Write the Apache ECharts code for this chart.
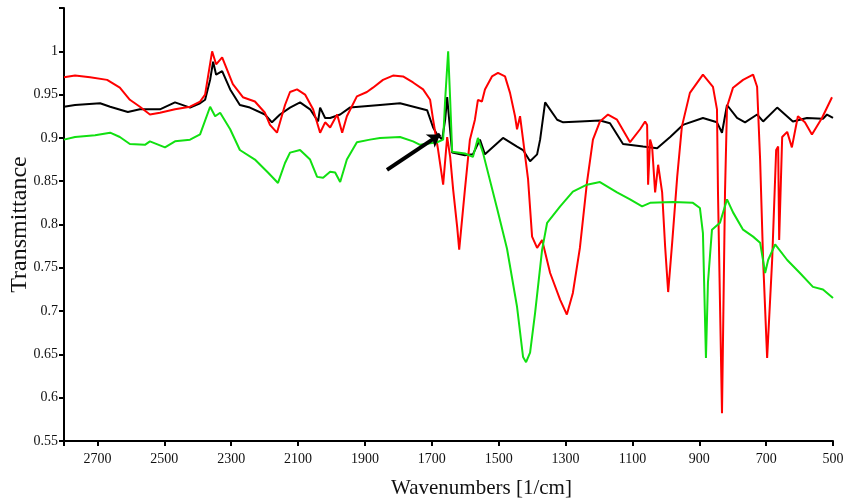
<!DOCTYPE html>
<html>
<head>
<meta charset="utf-8">
<script src="https://cdn.jsdelivr.net/npm/echarts@6/dist/echarts.min.js"></script>
<style>
  html, body { margin: 0; padding: 0; background: #fff; }
  #main { width: 843px; height: 504px; }
</style>
</head>
<body>
<div id="main"></div>
<script>
// wavenumbers (1/cm) and transmittance, one pair of arrays per curve
var blackWn = [2800, 2767, 2692, 2662, 2609, 2573, 2513, 2468, 2423, 2393, 2378, 2363, 2354, 2345, 2327, 2303, 2274, 2244, 2199, 2178, 2154, 2124, 2094, 2064, 2040, 2034, 2019, 2004, 1974, 1945, 1855, 1795, 1714, 1696, 1684, 1669, 1660, 1654, 1648, 1639, 1601, 1577, 1556, 1541, 1487, 1445, 1427, 1406, 1385, 1376, 1361, 1325, 1307, 1257, 1197, 1167, 1128, 1068, 1026, 987, 949, 889, 847, 832, 817, 787, 763, 727, 709, 667, 620, 578, 530, 518, 500];
var blackT  = [0.936, 0.938, 0.940, 0.936, 0.930, 0.933, 0.933, 0.941, 0.935, 0.940, 0.944, 0.967, 0.988, 0.973, 0.977, 0.956, 0.938, 0.935, 0.927, 0.918, 0.927, 0.935, 0.941, 0.933, 0.919, 0.935, 0.923, 0.923, 0.927, 0.935, 0.938, 0.940, 0.932, 0.912, 0.904, 0.898, 0.921, 0.947, 0.921, 0.883, 0.880, 0.881, 0.898, 0.881, 0.900, 0.890, 0.886, 0.873, 0.881, 0.898, 0.941, 0.921, 0.918, 0.919, 0.920, 0.917, 0.893, 0.890, 0.888, 0.901, 0.915, 0.923, 0.918, 0.906, 0.938, 0.923, 0.918, 0.927, 0.919, 0.935, 0.919, 0.923, 0.922, 0.927, 0.923];

var redWn = [2800, 2767, 2722, 2671, 2633, 2603, 2573, 2543, 2513, 2468, 2423, 2393, 2378, 2357, 2345, 2327, 2295, 2265, 2229, 2199, 2184, 2163, 2139, 2124, 2103, 2079, 2055, 2034, 2019, 2004, 1983, 1968, 1954, 1924, 1894, 1876, 1846, 1816, 1786, 1756, 1726, 1705, 1696, 1681, 1666, 1654, 1645, 1636, 1624, 1618, 1601, 1586, 1571, 1562, 1550, 1541, 1520, 1502, 1481, 1466, 1451, 1445, 1436, 1427, 1412, 1400, 1385, 1370, 1346, 1316, 1296, 1278, 1257, 1236, 1218, 1197, 1173, 1146, 1107, 1077, 1062, 1056, 1053, 1047, 1041, 1032, 1023, 1011, 1002, 993, 981, 966, 952, 928, 889, 859, 847, 844, 832, 823, 817, 799, 769, 739, 727, 718, 709, 697, 682, 670, 664, 661, 652, 637, 623, 605, 584, 563, 533, 503];
var redT  = [0.970, 0.972, 0.970, 0.967, 0.958, 0.944, 0.936, 0.927, 0.929, 0.933, 0.936, 0.942, 0.950, 1.000, 0.985, 0.993, 0.962, 0.947, 0.942, 0.929, 0.915, 0.906, 0.938, 0.953, 0.956, 0.950, 0.933, 0.906, 0.918, 0.912, 0.927, 0.906, 0.925, 0.948, 0.953, 0.958, 0.967, 0.972, 0.971, 0.964, 0.956, 0.944, 0.921, 0.886, 0.846, 0.901, 0.878, 0.840, 0.797, 0.771, 0.840, 0.898, 0.921, 0.944, 0.942, 0.956, 0.971, 0.975, 0.971, 0.952, 0.925, 0.910, 0.925, 0.898, 0.852, 0.786, 0.773, 0.782, 0.744, 0.713, 0.696, 0.721, 0.773, 0.848, 0.898, 0.919, 0.927, 0.921, 0.895, 0.910, 0.919, 0.915, 0.846, 0.898, 0.890, 0.837, 0.869, 0.837, 0.774, 0.722, 0.779, 0.855, 0.913, 0.952, 0.973, 0.959, 0.933, 0.837, 0.582, 0.837, 0.936, 0.958, 0.967, 0.973, 0.959, 0.875, 0.759, 0.646, 0.759, 0.886, 0.890, 0.782, 0.901, 0.907, 0.889, 0.925, 0.918, 0.904, 0.923, 0.947];

var greenWn = [2800, 2767, 2707, 2662, 2633, 2603, 2558, 2543, 2498, 2468, 2423, 2393, 2363, 2348, 2333, 2303, 2274, 2229, 2190, 2160, 2139, 2124, 2094, 2064, 2043, 2025, 2004, 1989, 1974, 1954, 1924, 1885, 1855, 1795, 1756, 1735, 1684, 1666, 1660, 1651, 1645, 1639, 1601, 1577, 1562, 1547, 1505, 1475, 1445, 1427, 1418, 1406, 1391, 1370, 1355, 1316, 1278, 1236, 1197, 1146, 1107, 1071, 1047, 978, 919, 898, 889, 880, 874, 862, 838, 817, 799, 769, 739, 718, 703, 694, 673, 637, 599, 560, 530, 500];
var greenT  = [0.898, 0.901, 0.903, 0.906, 0.901, 0.893, 0.892, 0.896, 0.889, 0.896, 0.898, 0.904, 0.936, 0.925, 0.929, 0.910, 0.886, 0.875, 0.860, 0.848, 0.871, 0.883, 0.886, 0.875, 0.855, 0.854, 0.861, 0.860, 0.849, 0.875, 0.895, 0.898, 0.900, 0.901, 0.896, 0.892, 0.895, 0.898, 0.944, 1.000, 0.944, 0.884, 0.882, 0.878, 0.900, 0.883, 0.819, 0.772, 0.705, 0.647, 0.641, 0.652, 0.698, 0.771, 0.802, 0.821, 0.838, 0.846, 0.849, 0.837, 0.829, 0.821, 0.825, 0.826, 0.825, 0.819, 0.790, 0.646, 0.733, 0.794, 0.802, 0.829, 0.814, 0.794, 0.786, 0.779, 0.744, 0.759, 0.777, 0.759, 0.744, 0.728, 0.725, 0.715];

// arrow pointing at the 1675 band
var arrowFrom = [1834, 0.863];
var arrowTo = [1675, 0.904];

function pairs(xs, ys) {
  var out = [];
  for (var i = 0; i < xs.length; i++) out.push([xs[i], ys[i]]);
  return out;
}

var serif = 'Liberation Serif';
var chart = echarts.init(document.getElementById('main'));

var option = {
  animation: false,
  grid: { left: 64, right: 10, top: 8, bottom: 63, containLabel: false, outerBoundsMode: 'none' },
  xAxis: {
    type: 'value',
    inverse: true,
    min: 500,
    max: 2800,
    interval: 200,
    name: 'Wavenumbers [1/cm]',
    nameLocation: 'middle',
    nameGap: 37,
    nameMoveOverlap: false,
    nameTextStyle: { fontFamily: serif, fontSize: 21, color: '#111', padding: [0, 0, 0, 66] },
    axisLine: { lineStyle: { color: '#000', width: 2 } },
    axisTick: { length: 5, lineStyle: { color: '#000', width: 2 } },
    axisLabel: {
      margin: 11,
      fontFamily: serif,
      fontSize: 14,
      color: '#111',
      formatter: function (v) { return v >= 2800 ? '' : String(v); }
    },
    splitLine: { show: false }
  },
  yAxis: {
    type: 'value',
    min: 0.55,
    max: 1.05,
    interval: 0.05,
    name: 'Transmittance',
    nameLocation: 'middle',
    nameGap: 32,
    nameMoveOverlap: false,
    nameTextStyle: { fontFamily: serif, fontSize: 24, color: '#111' },
    axisLine: { show: true, lineStyle: { color: '#000', width: 2 } },
    axisTick: { show: true, length: 5, lineStyle: { color: '#000', width: 2 } },
    axisLabel: {
      margin: 6,
      fontFamily: serif,
      fontSize: 14,
      color: '#111',
      formatter: function (v) {
        if (v > 1.01) return '';
        return String(Math.round(v * 100) / 100);
      }
    },
    splitLine: { show: false }
  },
  series: [
    {
      name: 'black',
      type: 'line',
      data: pairs(blackWn, blackT),
      showSymbol: false,
      lineStyle: { color: '#000', width: 2 },
      markLine: {
        silent: true,
        symbol: ['none', 'arrow'],
        symbolSize: 12,
        label: { show: false },
        lineStyle: { color: '#000', width: 4, type: 'solid' },
        data: [[{ coord: arrowFrom }, { coord: arrowTo }]]
      }
    },
    {
      name: 'red',
      type: 'line',
      data: pairs(redWn, redT),
      showSymbol: false,
      lineStyle: { color: '#ff0000', width: 2 }
    },
    {
      name: 'green',
      type: 'line',
      data: pairs(greenWn, greenT),
      showSymbol: false,
      lineStyle: { color: '#11e011', width: 2 }
    }
  ]
};

chart.setOption(option);
</script>
</body>
</html>
